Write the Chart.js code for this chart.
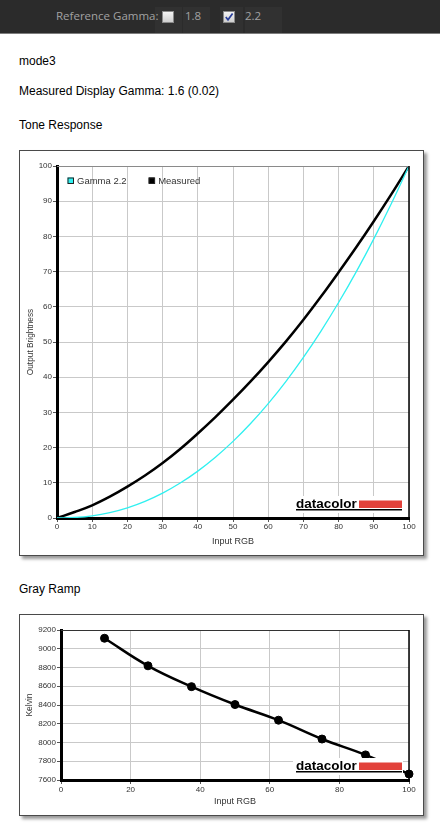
<!DOCTYPE html>
<html><head><meta charset="utf-8">
<script src="https://cdn.jsdelivr.net/npm/chart.js@4.4.1/dist/chart.umd.min.js"></script>
<style>
html,body{margin:0;padding:0;background:#fff;width:440px;height:830px;overflow:hidden;font-family:Arial,"Liberation Sans",sans-serif;}
#hdr{position:absolute;left:0;top:0;width:440px;height:33px;background:#2b2b2b;border-bottom:1px solid #7d7d7d;}
.cell{position:absolute;top:7px;height:26px;background:#313131;}
.htxt{position:absolute;top:8px;font-family:"Open Sans",sans-serif;font-size:11.5px;color:#a2a2a2;line-height:16px;white-space:nowrap;}
.cb{position:absolute;top:11px;width:10px;height:10px;background:linear-gradient(#f4f4f4,#cfcfcf);border:1px solid #8a8a8a;}
.txt{position:absolute;left:19px;font-size:12px;color:#000;line-height:14px;white-space:nowrap;}
.box{position:absolute;left:19px;width:403px;border:1px solid #4a4a4a;background:#fff;box-shadow:3px 3px 3px #9a9a9a;}
canvas{display:block;}
</style></head>
<body>
<div id="hdr">
  <div class="cell" style="left:155px;width:27px"></div>
  <div class="cell" style="left:183px;width:27px"></div>
  <div class="cell" style="left:220px;width:23px"></div>
  <div class="cell" style="left:245px;width:37px"></div>
  <div class="htxt" style="left:56px">Reference Gamma:</div>
  <div class="cb" style="left:162px"></div>
  <div class="htxt" style="left:185px">1.8</div>
  <div class="cb" style="left:223px"><svg width="10" height="10" viewBox="0 0 10 10" style="display:block"><path d="M1.8 5 L4 7.8 L8.6 1.4" stroke="#2a3f9a" stroke-width="1.7" fill="none"/></svg></div>
  <div class="htxt" style="left:245px">2.2</div>
</div>
<div class="txt" style="top:54px">mode3</div>
<div class="txt" style="top:84px">Measured Display Gamma: 1.6 (0.02)</div>
<div class="txt" style="top:118px">Tone Response</div>
<div class="box" style="top:150px;height:404px"><canvas id="tone" width="403" height="404"></canvas></div>
<div class="txt" style="top:582px">Gray Ramp</div>
<div class="box" style="top:614px;height:200px"><canvas id="gray" width="403" height="200"></canvas></div>
<script>
// ---------- data ----------
const toneInput = [0,5,10,15,20,25,30,35,40,45,50,55,60,65,70,75,80,85,90,95,100];
const gamma22 = [0,0.14,0.63,1.54,2.90,4.74,7.07,9.93,13.32,17.26,21.76,26.84,32.50,38.76,45.63,53.11,61.21,69.94,79.31,89.33,100];
const measured = [0,1.7,3.6,6.05,8.9,12.05,15.6,19.6,24.0,28.65,33.6,38.8,44.3,50.1,56.3,62.9,69.8,76.9,84.3,92.0,100];
const toneLabels = ['Gamma 2.2','Measured'];
const toneTicksX = [0,10,20,30,40,50,60,70,80,90,100];
const toneTicksY = [0,10,20,30,40,50,60,70,80,90,100];

const rampInput = [12.5,25,37.5,50,62.5,75,87.5,100];
const rampKelvin = [9112,8818,8596,8405,8238,8037,7868,7664];
const rampTicksX = [0,20,40,60,80,100];
const rampTicksY = [7600,7800,8000,8200,8400,8600,8800,9000,9200];

// ---------- helpers ----------
const FONT = 'Arial, "Liberation Sans", sans-serif';
const pts = (xs, ys) => xs.map((x,i)=>({x:x, y:ys[i]}));

const logoPlugin = {
  id:'logo',
  afterDatasetsDraw(chart){
    const a = chart.chartArea, c = chart.ctx;
    const R = a.right, B = a.bottom;
    c.save();
    c.fillStyle = '#fff';
    c.fillRect(R-116, B-22, 110, 17);
    c.fillStyle = '#e2423b';
    c.fillRect(R-50, B-17.5, 43, 7.5);
    c.fillStyle = '#000';
    c.font = 'bold 13.5px ' + FONT;
    c.textBaseline = 'alphabetic';
    c.textAlign = 'left';
    c.fillText('datacolor', R-113, B-10);
    c.fillRect(R-113, B-9, 106, 1.5);
    c.restore();
  }
};

const framePlugin = {
  id:'frame',
  afterDatasetsDraw(chart, args, opts){
    const a = chart.chartArea, c = chart.ctx;
    c.save();
    c.strokeStyle = opts.topColor || '#888';
    c.lineWidth = 1;
    c.beginPath(); c.moveTo(a.left, a.top+0.5); c.lineTo(a.right, a.top+0.5); c.stroke();
    c.strokeStyle = '#000';
    c.lineWidth = 1.5;
    c.beginPath(); c.moveTo(a.right, a.top); c.lineTo(a.right, a.bottom); c.stroke();
    c.restore();
  }
};

const legendPlugin = {
  id:'miniLegend',
  afterDraw(chart, args, opts){
    if (!opts.show) return;
    const a = chart.chartArea, c = chart.ctx;
    c.save();
    c.font = '9.5px ' + FONT;
    c.textBaseline = 'middle';
    c.textAlign = 'left';
    let x = a.left + 10.5;
    const y = a.top + 11.5;
    chart.data.datasets.forEach(ds => {
      c.fillStyle = ds.legendFill;
      c.fillRect(x, y, 6, 6);
      c.strokeStyle = '#222';
      c.lineWidth = 1;
      c.strokeRect(x+0.5, y+0.5, 5.5, 5.5);
      c.fillStyle = '#333';
      c.fillText(ds.label, x+9.5, y+3.5);
      x += 9.5 + c.measureText(ds.label).width + 22;
    });
    c.restore();
  }
};

function axis(opts){
  return {
    type:'linear', min:opts.min, max:opts.max,
    afterBuildTicks(s){ s.ticks = opts.ticks.map(v=>({value:v})); },
    ticks:{ font:{family:FONT,size:8}, color:'#333', padding:opts.tickPad, autoSkip:false, maxRotation:0,
            callback:(v)=>String(v) },
    grid:{ color:'#c9c9c9', lineWidth:1, tickLength:4, tickColor:'#555' },
    border:{ color:'#000', width:3 },
    title:{ display:true, text:opts.title, color:'#333', font:{family:FONT,size:opts.titleSize}, padding:opts.titlePad },
    afterFit(s){ if (opts.w) s.width = opts.w; if (opts.h) s.height = opts.h; }
  };
}

// ---------- tone response ----------
new Chart(document.getElementById('tone'), {
  type:'line',
  data:{ datasets:[
    { label:toneLabels[0], data:pts(toneInput,gamma22), borderColor:'#2ff0f0', borderWidth:1.3, pointRadius:0, tension:0.4, fill:false, legendFill:'#2ff0f0' },
    { label:toneLabels[1], data:pts(toneInput,measured), borderColor:'#000', borderWidth:2.5, pointRadius:0, tension:0.4, fill:false, legendFill:'#000' }
  ]},
  options:{
    responsive:false, animation:false, devicePixelRatio:1,
    layout:{ padding:{ left:0, top:15, right:14, bottom:0 } },
    plugins:{ legend:{display:false}, tooltip:{enabled:false}, frame:{topColor:'#8a8a8a'}, miniLegend:{show:true} },
    scales:{
      x: axis({min:0,max:100,ticks:toneTicksX,title:'Input RGB',titleSize:9,titlePad:{top:0,bottom:8.5},tickPad:0,h:37}),
      y: axis({min:0,max:100,ticks:toneTicksY,title:'Output Brightness',titleSize:8.3,titlePad:{top:5.5,bottom:0},tickPad:1,w:37})
    }
  },
  plugins:[logoPlugin, framePlugin, legendPlugin]
});

// ---------- gray ramp ----------
new Chart(document.getElementById('gray'), {
  type:'line',
  data:{ datasets:[
    { label:'Kelvin', data:pts(rampInput,rampKelvin), borderColor:'#000', borderWidth:2.5, pointRadius:4, pointBackgroundColor:'#000', pointBorderColor:'#000', pointBorderWidth:1, tension:0.4, fill:false, clip:8 }
  ]},
  options:{
    responsive:false, animation:false, devicePixelRatio:1,
    layout:{ padding:{ left:0, top:15, right:14, bottom:0 } },
    plugins:{ legend:{display:false}, tooltip:{enabled:false}, frame:{topColor:'#333'}, miniLegend:{show:false} },
    scales:{
      x: axis({min:0,max:100,ticks:rampTicksX,title:'Input RGB',titleSize:9,titlePad:{top:0,bottom:8},tickPad:1,h:35}),
      y: axis({min:7600,max:9200,ticks:rampTicksY,title:'Kelvin',titleSize:8.5,titlePad:{top:4.5,bottom:0},tickPad:1,w:41})
    }
  },
  plugins:[logoPlugin, framePlugin, legendPlugin]
});
</script>
</body></html>
